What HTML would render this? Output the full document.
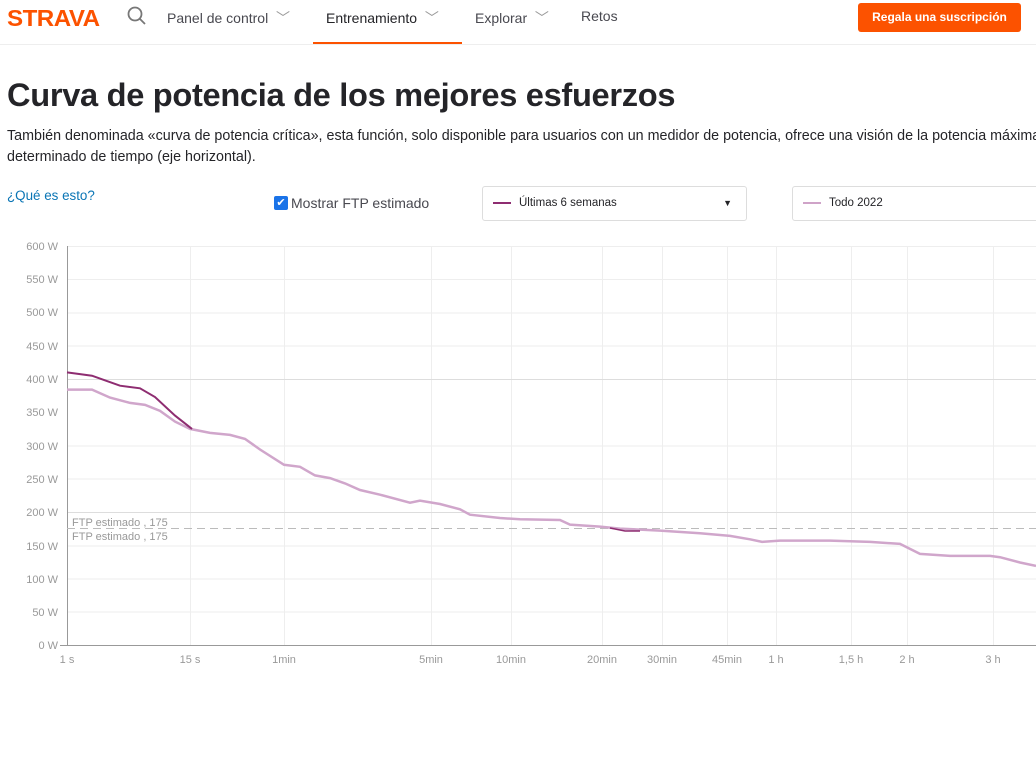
<!DOCTYPE html>
<html><head><meta charset="utf-8"><style>
body{margin:0;width:1036px;height:759px;overflow:hidden;background:#fff;font-family:"Liberation Sans",sans-serif;color:#242428;position:relative}
.nav{position:absolute;top:0;left:0;width:1036px;height:44px;border-bottom:1px solid #eee}
.logo{position:absolute;left:7px;top:5px;font-weight:900;font-size:23px;color:#fc5200;letter-spacing:-0.5px;transform:scaleX(1.05);transform-origin:left}
.ni{position:absolute;top:8px;font-size:14px;color:#494950}
.btn{position:absolute;left:858px;top:3px;width:163px;height:29px;background:#fc5200;border-radius:3px;color:#fff;font-size:12px;font-weight:bold;text-align:center;line-height:29px}
h1{position:absolute;left:7px;top:76px;margin:0;font-size:32.6px;font-weight:bold;letter-spacing:-0.3px}
.desc{position:absolute;left:7px;top:126px;font-size:14.3px;line-height:21px;white-space:nowrap}
.sel{position:absolute;top:186px;height:33px;border:1px solid #ddd;border-radius:3px;font-size:11.5px;line-height:33px}
</style></head><body>
<div class="nav">
<div class="logo">STRAVA</div>
<svg style="position:absolute;left:127px;top:6px" width="20" height="20"><circle cx="8" cy="8" r="6.5" stroke="#777" stroke-width="1.8" fill="none"/><line x1="13" y1="13" x2="18" y2="18" stroke="#777" stroke-width="1.8"/></svg>
<div class="ni" style="left:167px">Panel de control &nbsp;<span style="color:#999">﹀</span></div>
<div class="ni" style="left:326px;color:#242428">Entrenamiento &nbsp;<span style="color:#999">﹀</span></div>
<div style="position:absolute;left:313px;top:42px;width:149px;height:2px;background:#fc5200"></div>
<div class="ni" style="left:475px">Explorar &nbsp;<span style="color:#999">﹀</span></div>
<div class="ni" style="left:581px">Retos</div>
<div class="btn">Regala una suscripción</div>
</div>
<h1>Curva de potencia de los mejores esfuerzos</h1>
<div class="desc">También denominada «curva de potencia crítica», esta función, solo disponible para usuarios con un medidor de potencia, ofrece una visión de la potencia máxima<br>determinado de tiempo (eje horizontal).</div>
<div style="position:absolute;left:7px;top:188px;font-size:13.4px;color:#0a75b5">¿Qué es esto?</div>
<div style="position:absolute;left:274px;top:196px;width:14px;height:14px;background:#1a73e8;border-radius:2px;color:#fff;font-size:11px;line-height:14px;text-align:center">✔</div>
<div style="position:absolute;left:291px;top:195px;font-size:14px;color:#494950">Mostrar FTP estimado</div>
<div class="sel" style="left:482px;width:263px"><span style="display:inline-block;width:18px;height:2px;background:#8e2d71;vertical-align:middle;margin:0 8px 0 10px"></span>Últimas 6 semanas<span style="position:absolute;right:14px;font-size:9px">▼</span></div>
<div class="sel" style="left:792px;width:260px"><span style="display:inline-block;width:18px;height:2px;background:#cfa3c8;vertical-align:middle;margin:0 8px 0 10px"></span>Todo 2022</div>
<svg style="position:absolute;left:0;top:0" width="1036" height="759" font-family="Liberation Sans, sans-serif" font-size="11" fill="#999">
<g stroke="#eee" stroke-width="1">
<line x1="67" x2="1036" y1="246.5" y2="246.5"/><line x1="67" x2="1036" y1="279.5" y2="279.5"/><line x1="67" x2="1036" y1="313" y2="313"/><line x1="67" x2="1036" y1="346" y2="346"/><line x1="67" x2="1036" y1="446" y2="446"/><line x1="67" x2="1036" y1="479" y2="479"/><line x1="67" x2="1036" y1="546" y2="546"/><line x1="67" x2="1036" y1="579" y2="579"/><line x1="67" x2="1036" y1="612" y2="612"/>
<line x1="190.5" x2="190.5" y1="246" y2="645"/><line x1="284.5" x2="284.5" y1="246" y2="645"/><line x1="431.5" x2="431.5" y1="246" y2="645"/><line x1="511.5" x2="511.5" y1="246" y2="645"/><line x1="602.5" x2="602.5" y1="246" y2="645"/><line x1="662.5" x2="662.5" y1="246" y2="645"/><line x1="727.5" x2="727.5" y1="246" y2="645"/><line x1="776.5" x2="776.5" y1="246" y2="645"/><line x1="851.5" x2="851.5" y1="246" y2="645"/><line x1="907.5" x2="907.5" y1="246" y2="645"/><line x1="993.5" x2="993.5" y1="246" y2="645"/>
</g>
<line x1="67" x2="1036" y1="379.5" y2="379.5" stroke="#ddd"/><line x1="67" x2="1036" y1="512.5" y2="512.5" stroke="#ddd"/>
<line x1="67.5" x2="67.5" y1="246" y2="645" stroke="#999"/><line x1="60" x2="1036" y1="645.5" y2="645.5" stroke="#999"/>
<line x1="67" x2="1036" y1="528.5" y2="528.5" stroke="#bbb" stroke-dasharray="8,5"/>
<text x="72" y="526">FTP estimado , 175</text><text x="72" y="540">FTP estimado , 175</text>
<g text-anchor="end">
<text x="58" y="250">600 W</text><text x="58" y="283">550 W</text><text x="58" y="316">500 W</text><text x="58" y="350">450 W</text><text x="58" y="383">400 W</text><text x="58" y="416">350 W</text><text x="58" y="450">300 W</text><text x="58" y="483">250 W</text><text x="58" y="516">200 W</text><text x="58" y="550">150 W</text><text x="58" y="583">100 W</text><text x="58" y="616">50 W</text><text x="58" y="649">0 W</text>
</g>
<g text-anchor="middle">
<text x="67" y="663">1 s</text><text x="190" y="663">15 s</text><text x="284" y="663">1min</text><text x="431" y="663">5min</text><text x="511" y="663">10min</text><text x="602" y="663">20min</text><text x="662" y="663">30min</text><text x="727" y="663">45min</text><text x="776" y="663">1 h</text><text x="851" y="663">1,5 h</text><text x="907" y="663">2 h</text><text x="993" y="663">3 h</text>
</g>
<polyline fill="none" stroke="#d0a6cb" stroke-width="2.5" points="67,389.6 92,389.6 110,397.6 130,402.9 145,404.9 160,410.9 175,421.6 190,428.9 210,432.9 230,434.9 245,438.9 260,449.5 284,464.8 300,466.8 315,475.4 330,478.1 345,483.4 360,490 380,494.7 410,502.7 420,500.7 440,504 460,509.3 470,514.7 500,518 520,519.3 560,520 570,524.6 600,526.6 620,528.6 660,530.6 700,533.3 730,535.9 750,539.3 762,541.9 780,540.6 830,540.6 870,541.9 900,543.9 920,553.9 950,555.9 990,555.9 1000,557.2 1020,562.5 1036,565.9"/>
<polyline fill="none" stroke="#8e2d71" stroke-width="2" points="67,372.4 92,375.7 120,385.7 140,388.3 155,397 175,415.6 192,428.9"/>
<polyline fill="none" stroke="#8e2d71" stroke-width="1.5" points="610,528 625,531 640,531"/>
</svg>
</body></html>
